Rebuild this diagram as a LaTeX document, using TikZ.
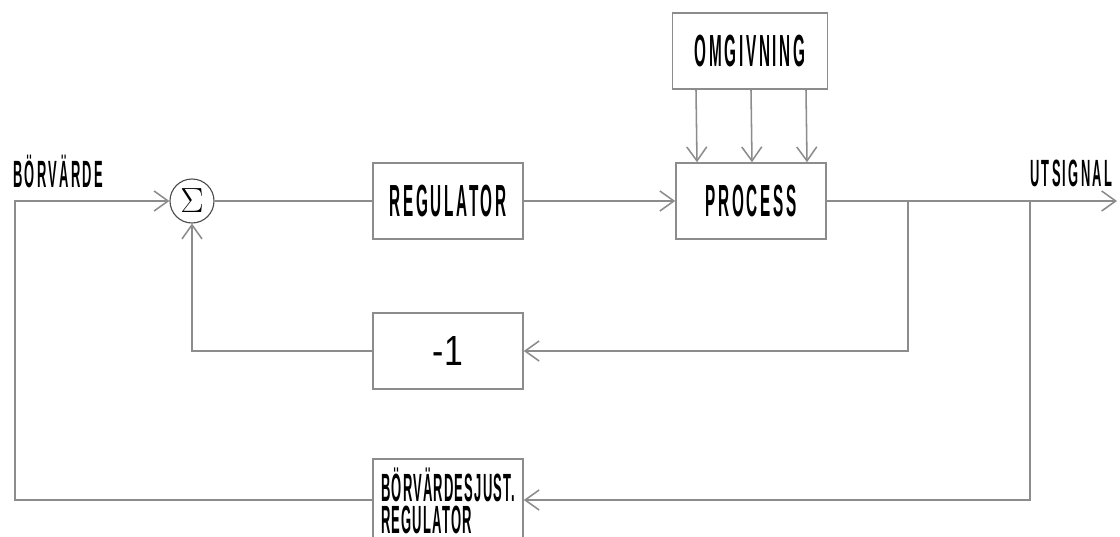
\documentclass[tikz,border=0pt]{standalone}
\usepackage{fontspec}
\newfontfamily\letterfont{Liberation Sans}[FakeStretch=0.34,LetterSpace=6]
\newfontfamily\adjfont{Liberation Sans}[FakeStretch=0.33,LetterSpace=3]
\newfontfamily\plainfont{Liberation Sans}[FakeStretch=0.8]
\usetikzlibrary{arrows.meta}
\definecolor{pencil}{gray}{0.55}
\tikzset{
    line/.style={draw=pencil, line width=1.1pt},
    arr/.style={line, -{Straight Barb[length=3.5mm,width=5mm]}},
    blk/.style={line, minimum width=3.75cm, minimum height=1.9cm, inner sep=0pt,
        font=\letterfont\bfseries\fontsize{32}{36}\selectfont},
    lbl/.style={inner sep=0pt, font=\letterfont\bfseries\fontsize{27}{30}\selectfont},
    sumc/.style={circle, draw=black!70, line width=0.8pt, minimum size=1.1cm, inner sep=0pt,
        font=\fontsize{30}{30}\selectfont}
}
\begin{document}
\begin{tikzpicture}
    [x=0.025cm,y=-0.025cm]
    \useasboundingbox (0,0) rectangle (1120,537);
    %blocks
    \node[sumc] (sum) at (192,201) {$\Sigma$};
    \node[blk] (reg) at (448,201) {REGULATOR};
    \node[blk] (proc) at (751,201) {PROCESS};
    \node[blk, minimum width=3.87cm] (omg) at (750,51) {OMGIVNING};
    \node[blk, font=\plainfont\fontsize{30}{30}\selectfont] (neg) at (448,351) {-1};
    \node[blk, minimum height=2.1cm, align=left,
        font=\adjfont\bfseries\fontsize{28}{23}\selectfont] (adj) at (448,501)
        {B\"ORV\"ARDESJUST.\\REGULATOR};
    %labels
    \node[lbl, anchor=base west] (setp) at (13,188) {B\"ORV\"ARDE};
    \node[lbl, anchor=base west] (outp) at (1030,187) {UTSIGNAL};
    %corners
    \coordinate (lc) at (15,500);
    \coordinate (lt) at (15,201);
    \coordinate (fb) at (908,201);
    \coordinate (ab) at (1030,201);
    \coordinate (out) at (1117,201);
    %forward path
    \draw[arr] (adj.west |- lc) -- (lc) -- (lt) -- (sum.west);
    \draw[line] (sum.east) -- (reg.west);
    \draw[arr] (reg.east) -- (proc.west);
    \foreach \dx in {-54,1,56}
        \draw[arr] ([xshift=\dx*0.025cm]omg.south) -- ([xshift=\dx*0.025cm]proc.north);
    \draw[arr] (proc.east) -- (out);
    %feedback
    \draw[arr] (fb) |- (neg.east);
    \draw[arr] (neg.west) -| (sum.south);
    \draw[arr] (ab) |- (adj.east |- lc);
\end{tikzpicture}
\end{document}
